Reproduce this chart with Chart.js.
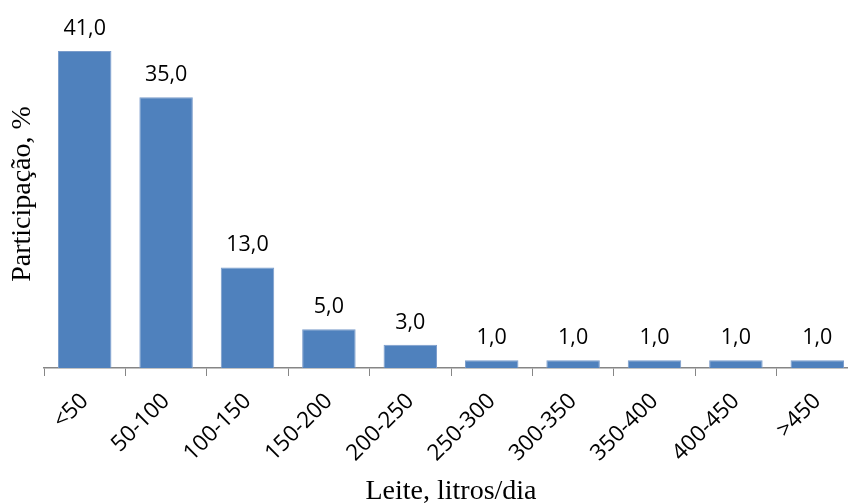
<!DOCTYPE html>
<html>
<head>
<meta charset="utf-8">
<script src="https://cdn.jsdelivr.net/npm/chart.js@4"></script>
<style>
  html, body { margin: 0; padding: 0; background: #fff; }
  #wrap { width: 848px; height: 504px; overflow: hidden; position: relative; }
  #box { width: 860px; height: 504px; }
</style>
</head>
<body>
<div id="wrap"><div id="box"><canvas id="chart"></canvas></div></div>
<script>
// Participação por faixa de produção de leite
const categorias = ['<50', '50-100', '100-150', '150-200', '200-250', '250-300', '300-350', '350-400', '400-450', '>450'];
const participacao = [41, 35, 13, 5, 3, 1, 1, 1, 1, 1];
const tituloX = 'Leite, litros/dia';
const tituloY = 'Participação, %';

const AZUL = '#4F81BD';
const EIXO = '#868686';

function fmtBR(v) { return Number(v).toFixed(1).replace('.', ','); }

// rótulos acima das barras
const rotulos = {
  id: 'rotulos',
  afterDatasetsDraw(chart) {
    const ctx = chart.ctx;
    const meta = chart.getDatasetMeta(0);
    ctx.save();
    ctx.font = '21.5px "Open Sans"';
    ctx.fillStyle = '#000';
    ctx.textAlign = 'center';
    ctx.textBaseline = 'alphabetic';
    meta.data.forEach((bar, i) => {
      ctx.fillText(fmtBR(participacao[i]), bar.x, bar.y - 16);
    });
    ctx.restore();
  }
};

new Chart(document.getElementById('chart'), {
  type: 'bar',
  data: {
    labels: categorias,
    datasets: [{
      data: participacao,
      backgroundColor: AZUL,
      borderColor: '#7A9CCB',
      borderWidth: 1,
      barPercentage: 0.657,
      categoryPercentage: 1
    }]
  },
  options: {
    responsive: true, maintainAspectRatio: false,
    animation: false,
    layout: { padding: { left: 0, right: 2, top: 20, bottom: 0 } },
    plugins: { legend: { display: false }, tooltip: { enabled: false } },
    scales: {
      x: {
        offset: true,
        // os rótulos girados cabem na folga da categoria; não reservar margem extra
        afterFit: s => { s.paddingLeft = 0; s.paddingRight = 0; },
        grid: { display: true, drawOnChartArea: false, drawTicks: true, tickLength: 8, color: EIXO, offset: true },
        border: { display: true, color: EIXO, width: 1.5 },
        ticks: { color: '#000', font: { family: 'Open Sans', size: 22.5 }, minRotation: 45, maxRotation: 45, padding: 12 },
        title: { display: true, text: tituloX, color: '#000', font: { family: 'Liberation Serif', size: 28, lineHeight: 0.9 }, padding: { top: 0, bottom: 0 } }
      },
      y: {
        min: 0, max: 45,
        grid: { display: false },
        border: { display: false },
        ticks: { display: false },
        title: { display: true, text: tituloY, color: '#000', font: { family: 'Liberation Serif', size: 28 }, padding: { top: 6, bottom: -3.6 } }
      }
    }
  },
  plugins: [rotulos]
});
</script>
</body>
</html>
